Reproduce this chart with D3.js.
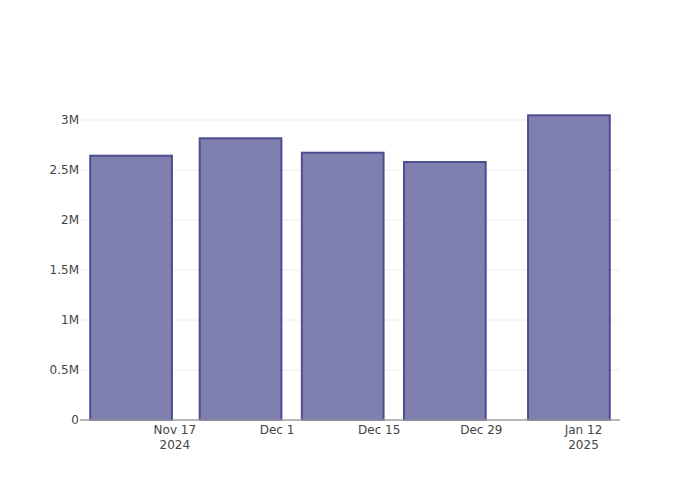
<!DOCTYPE html>
<html><head><meta charset="utf-8">
<script src="https://cdn.jsdelivr.net/npm/d3@7"></script>
<style>body{margin:0;background:#fff}svg{display:block}</style>
</head><body>
<svg id="c" width="700" height="500"></svg>
<script>
const dates = ["2024-11-11","2024-11-26","2024-12-10","2024-12-24","2025-01-10"];
const values = [2643000, 2817000, 2673000, 2580000, 3047000];
const yTicks = [0, 500000, 1000000, 1500000, 2000000, 2500000, 3000000];
const yTickLabels = ["0","0.5M","1M","1.5M","2M","2.5M","3M"];
const xTicks = ["2024-11-17","2024-12-01","2024-12-15","2024-12-29","2025-01-12"];
const xTickLabels = [["Nov 17","2024"],["Dec 1"],["Dec 15"],["Dec 29"],["Jan 12","2025"]];

const parse = d3.utcParse("%Y-%m-%d");
const DAY = 86400000;
const m = {l:80, r:80, t:100, b:80};
const W = 700, H = 500;
const svg = d3.select("#c");
const dts = dates.map(parse);
const barW = 14*DAY*0.8;
const x = d3.scaleUtc()
  .domain([new Date(+dts[0] - barW/2 - 1.4*DAY), new Date(+dts[dts.length-1] + barW/2 + 1.4*DAY)])
  .range([m.l, W - m.r]);
const y = d3.scaleLinear().domain([0, 3200000]).range([H - m.b, m.t]);

// grid
svg.append("g").selectAll("line").data(yTicks.slice(1)).join("line")
  .attr("x1", m.l).attr("x2", W - m.r)
  .attr("y1", d => y(d)).attr("y2", d => y(d))
  .attr("stroke", "#eeeeee").attr("stroke-width", 1);

// bars
svg.append("g").selectAll("rect").data(values).join("rect")
  .attr("x", (d,i) => x(new Date(+dts[i] - barW/2)))
  .attr("width", (d,i) => x(new Date(+dts[i] + barW/2)) - x(new Date(+dts[i] - barW/2)))
  .attr("y", d => y(d))
  .attr("height", d => y(0) - y(d))
  .attr("fill", "rgb(127,127,176)")
  .attr("stroke", "rgb(78,78,145)")
  .attr("stroke-width", 2);

// x axis line
svg.append("line").attr("x1", m.l).attr("x2", W - m.r)
  .attr("y1", y(0)).attr("y2", y(0)).attr("stroke", "#9e9e9e").attr("stroke-width", 1.5);

const font = "'DejaVu Sans', sans-serif";
// y tick labels
svg.append("g").selectAll("text").data(yTicks).join("text")
  .attr("x", m.l - 1).attr("y", d => y(d)).attr("dy", "0.36em")
  .attr("text-anchor", "end").attr("font-family", font).attr("font-size", 12)
  .attr("fill", "#444").text((d,i) => yTickLabels[i]);

// x tick labels
const xg = svg.append("g");
xTicks.forEach((t,i) => {
  xTickLabels[i].forEach((s,j) => {
    xg.append("text").attr("x", x(parse(t))).attr("y", y(0) + 13.5 + j*15.6)
      .attr("text-anchor", "middle").attr("font-family", font).attr("font-size", 12)
      .attr("fill", "#444").text(s);
  });
});
</script>
</body></html>
